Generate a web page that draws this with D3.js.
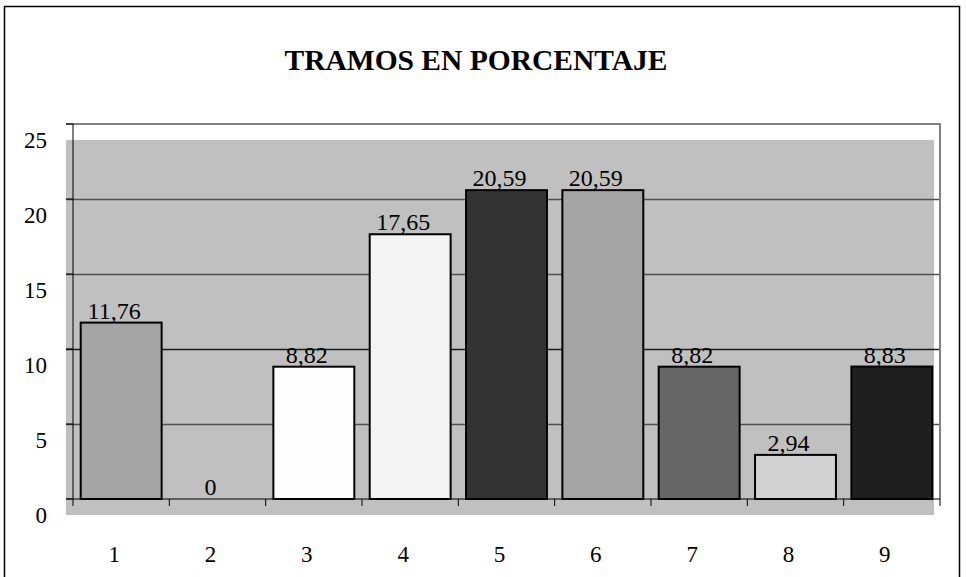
<!DOCTYPE html>
<html>
<head>
<meta charset="utf-8">
<script src="https://cdn.jsdelivr.net/npm/d3@7"></script>
<style>
  body { margin: 0; background: #fff; }
  text { font-family: "Liberation Serif", "Times New Roman", serif; fill: #000; }
</style>
</head>
<body>
<svg id="chart" width="966" height="577"></svg>
<script>
  const categories = ["1", "2", "3", "4", "5", "6", "7", "8", "9"];
  const values = [11.76, 0, 8.82, 17.65, 20.59, 20.59, 8.82, 2.94, 8.83];
  const labels = ["11,76", "0", "8,82", "17,65", "20,59", "20,59", "8,82", "2,94", "8,83"];
  const fills = ["#a5a5a5", "#fdfdfd", "#fdfdfd", "#f3f3f3", "#333333", "#a5a5a5", "#666666", "#d2d2d2", "#1f1f1f"];
  const yTicks = [0, 5, 10, 15, 20, 25];

  const svg = d3.select("#chart");

  // plot area
  const pLeft = 73, pRight = 940, pTop = 124, pBottom = 499;
  const depth = 7; // 3d offset of the excel chart

  const x = d3.scaleBand().domain(categories).range([pLeft, pRight]).paddingInner(0.16).paddingOuter(0.08);
  const xTick = d3.scaleBand().domain(categories).range([pLeft, pRight]);
  const y = d3.scaleLinear().domain([0, 25]).range([pBottom, pTop]);

  // outer frame
  svg.append("rect")
    .attr("x", 4.5).attr("y", 6.5).attr("width", 955).attr("height", 575)
    .attr("fill", "none").attr("stroke", "#000").attr("stroke-width", 1.5);

  svg.append("text")
    .attr("x", 476).attr("y", 70)
    .attr("text-anchor", "middle")
    .attr("font-size", 29.5).attr("font-weight", "bold")
    .text("TRAMOS EN PORCENTAJE");

  // gray wall
  svg.append("rect")
    .attr("x", pLeft - depth).attr("y", pTop + 16)
    .attr("width", pRight - pLeft + 1).attr("height", pBottom - pTop)
    .attr("fill", "#c0c0c0");

  // gridlines
  svg.append("g")
    .selectAll("line")
    .data(yTicks.filter(d => d > 0 && d < 25))
    .join("line")
    .attr("x1", pLeft - depth).attr("x2", pRight)
    .attr("y1", d => y(d) + 0.5).attr("y2", d => y(d) + 0.5)
    .attr("stroke", d => d === 10 ? "#1a1a1a" : "#505050")
    .attr("stroke-width", 1.3);

  // top / right frame of plot
  svg.append("path")
    .attr("d", `M${pLeft - depth},${y(25)}H${pRight}V${pBottom + depth}`)
    .attr("fill", "none").attr("stroke", "#808080").attr("stroke-width", 2);

  // bars
  svg.append("g")
    .selectAll("rect")
    .data(values)
    .join("rect")
    .attr("x", (d, i) => x(categories[i]))
    .attr("y", d => y(d))
    .attr("width", x.bandwidth())
    .attr("height", d => y(0) - y(d))
    .attr("fill", (d, i) => fills[i])
    .attr("stroke", d => d > 0 ? "#000" : "none")
    .attr("stroke-width", 2);

  // value labels
  svg.append("g")
    .selectAll("text")
    .data(values)
    .join("text")
    .attr("x", (d, i) => x(categories[i]) + x.bandwidth() / 2 - depth)
    .attr("y", d => y(d) - 4)
    .attr("text-anchor", "middle")
    .attr("font-size", 24)
    .text((d, i) => labels[i]);

  // axes
  svg.append("line")
    .attr("x1", pLeft - depth).attr("x2", pRight)
    .attr("y1", pBottom).attr("y2", pBottom)
    .attr("stroke", "#000").attr("stroke-width", 1);
  svg.append("line")
    .attr("x1", pLeft).attr("x2", pLeft)
    .attr("y1", pTop).attr("y2", pBottom + depth)
    .attr("stroke", "#000").attr("stroke-width", 1);

  // x tick marks at band edges
  svg.append("g")
    .selectAll("line")
    .data(categories.slice(1))
    .join("line")
    .attr("x1", d => xTick(d)).attr("x2", d => xTick(d))
    .attr("y1", pBottom).attr("y2", pBottom + depth)
    .attr("stroke", "#000");

  // y tick stubs
  svg.append("g")
    .selectAll("line")
    .data(yTicks)
    .join("line")
    .attr("x1", pLeft - depth).attr("x2", pLeft)
    .attr("y1", d => y(d)).attr("y2", d => y(d))
    .attr("stroke", "#000");

  svg.append("g")
    .selectAll("text")
    .data(yTicks)
    .join("text")
    .attr("x", 47).attr("y", d => y(d) + 24)
    .attr("text-anchor", "end")
    .attr("font-size", 23)
    .text(d => d);

  svg.append("g")
    .selectAll("text")
    .data(categories)
    .join("text")
    .attr("x", d => xTick(d) + xTick.bandwidth() / 2 - depth)
    .attr("y", 562)
    .attr("text-anchor", "middle")
    .attr("font-size", 23)
    .text(d => d);
</script>
</body>
</html>
